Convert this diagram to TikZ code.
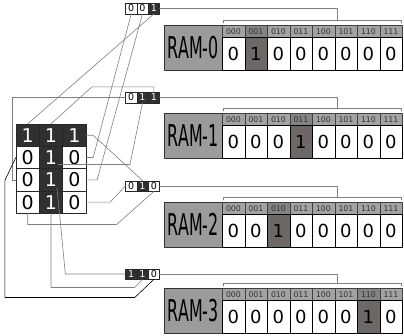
\documentclass[tikz,border=0pt]{standalone}
\usepackage{fontspec}
\setmainfont{DejaVu Sans}
\usetikzlibrary{calc}
\definecolor{cdark}{HTML}{303030}
\definecolor{chot}{HTML}{6D6866}
\definecolor{chead}{HTML}{A3A3A3}
\definecolor{cwire}{HTML}{808080}
\begin{document}
\begin{tikzpicture}[x=1pt,y=-1pt,line join=round,line cap=round,
    cell/.style={draw=black!85,minimum width=23.3pt,minimum height=22.3pt,inner sep=0pt,font=\fontsize{19}{19}\selectfont},
    abit/.style={draw=black!85,minimum width=11.3pt,minimum height=10.5pt,inner sep=0pt,font=\fontsize{9.5}{9.5}\selectfont},
    bit0/.style={fill=white},
    bit1/.style={fill=cdark,text=white},
    ramlabel/.style={draw=black!80,fill=chead!95!black,minimum width=58pt,minimum height=44.5pt,inner sep=0pt,anchor=north west},
    head/.style={draw=black!75,fill=chead,minimum width=22.5pt,minimum height=12pt,inner sep=0pt,anchor=north west,font=\fontsize{7.8}{7.8}\selectfont,text=black!80},
    val/.style={draw=black,fill=white,minimum width=22.5pt,minimum height=32.5pt,inner sep=0pt,anchor=north west,font=\fontsize{18}{18}\selectfont},
    hot0/.style={},
    hot1/.style={fill=chot},
    headhot0/.style={},
    headhot1/.style={fill=chot!55!chead},
    wire/.style={draw=cwire,line width=0.6pt}]
  \useasboundingbox (0,0) rectangle (404,335);
  % left matrix
  \foreach \r in {1,...,4}
    \foreach \c in {1,2,3} {
      \pgfmathtruncatemacro\bit{(\r==1)||(\c==2)}
      \node[cell,bit\bit] (m\r\c) at ({27.7+23.3*(\c-1)},{135.2+22.3*(\r-1)}) {\bit};
    }
  % address boxes
  \foreach \n/\y/\bits in {0/8.5/{0,0,1},1/97.5/{0,1,1},2/186/{0,1,0},3/274/{1,1,0}}
    \foreach \b [count=\i] in \bits
      \node[abit,bit\b] (a\n\i) at ({131.2+11.3*(\i-1)},\y) {\b};
  % RAM blocks
  \foreach \n/\y/\hot in {0/25/1,1/113/3,2/202/2,3/288/6} {
    \node[ramlabel] (r\n) at (164,\y) {\fontsize{30}{30}\selectfont\scalebox{0.53}[1]{RAM-\n}};
    \foreach \k [count=\i from 0] in {000,001,010,011,100,101,110,111} {
      \pgfmathtruncatemacro\on{\i==\hot}
      \node[head,headhot\on] (h\n\i) at ({222+22.5*\i},\y) {\k};
      \node[val,hot\on] (v\n\i) at ({222+22.5*\i},\y+12) {\on};
    }
    \coordinate (b\n) at (337,\y-5);
    \draw[wire] (223,\y-2) -- (223,\y-5) -- (401,\y-5) -- (401,\y-2);
    \draw[wire] (a\n3.east) -| (b\n);
  }
  % matrix to address boxes
  \draw[wire] (m23.east) -- ++(7,0) -- (a01.south);
  \draw[wire] (m33.east) -- ++(11,0) -- (a02.south);
  \draw[wire] (m11.north) -- (a03.south);
  \draw[wire] (m31.west) -- ++(-4,0) |- (a11.west);
  \draw[wire] ([xshift=7pt,yshift=-7pt]m22.center) -- ++(72,0) -- (a12.south);
  \draw[wire] (m12.north) -- ++(41,-37) -| (a13.north);
  \draw[wire] (m43.east) -- ++(24,0) -- (a21.west);
  \draw[wire] (m13.east) -- ++(7,0) -- (a22.north);
  \draw[wire] (m41.south) -- ++(0,11) -- ++(89,0) -- (a23.south);
  \draw[wire] ([xshift=6pt,yshift=-8pt]m32.center) -- ([xshift=-60pt]a31.west) -- (a31.west);
  \draw[wire] (m42.south) |- ([xshift=-8pt,yshift=-8pt]a32.south) -- (a32.south);
  \draw[wire,draw=black] (m21.west) -- ++(-11,23) |- ([xshift=-19pt,yshift=-18pt]a33.south) -- (a33.south);
\end{tikzpicture}
\end{document}
